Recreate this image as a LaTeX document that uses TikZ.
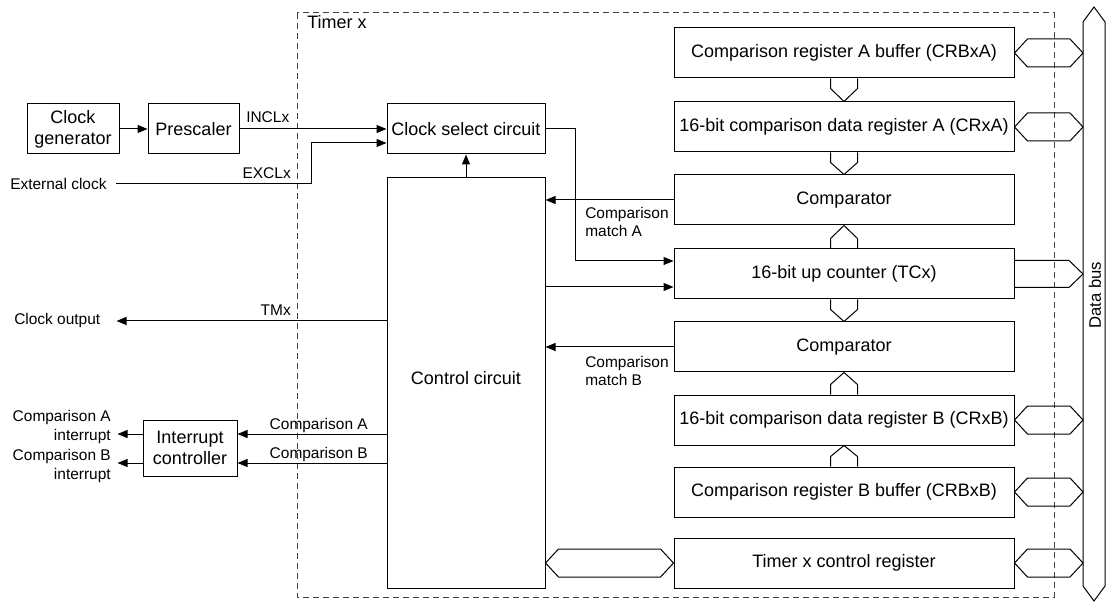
\documentclass[tikz,border=0pt]{standalone}
\usepackage{fontspec}
\setmainfont{Liberation Sans}
\usetikzlibrary{arrows.meta,calc}
\newcommand\hexbus[1]{\draw[bus] (#1.east) -- ++(13,-14) -- ($(#1.east -| busl)+(-13,-14)$) -- (#1.east -| busl) -- ++(-13,14) -- ($(#1.east)+(13,14)$) -- cycle;}
\newcommand\downbus[2]{\draw[bus] ($(#1.south)+(-13.5,0)$) -- ++(0,10) -- (#2.north) -- ($(#1.south)+(13.5,10)$) -- ++(0,-10);}
\newcommand\upbus[2]{\draw[bus] ($(#1.north)+(-13.5,0)$) -- ++(0,-10) -- (#2.south) -- ($(#1.north)+(13.5,-10)$) -- ++(0,10);}
\begin{document}
\begin{tikzpicture}[x=0.75pt,y=-0.75pt,
  box/.style={draw, line width=0.75pt, inner sep=0, font=\fontsize{13.5}{15.75}\selectfont, align=center},
  rbox/.style={box, minimum width=255pt, minimum height=37.5pt},
  lbl/.style={inner sep=0, font=\fontsize{11.6}{14}\selectfont},
  arr/.style={-{Triangle[length=7.5pt,width=6pt]}, line width=0.75pt},
  bus/.style={line width=0.75pt, line join=miter},
  frame/.style={dash pattern=on 4.5pt off 3pt, line width=0.75pt, black!75}
]
\useasboundingbox (0,0) rectangle (1112,605);
% timer frame
\draw[frame] (297,13) rectangle (1054,597);
\node[inner sep=0, anchor=west, font=\fontsize{13.5}{15.75}\selectfont] (tx) at (307,22) {Timer x};
% right column
\node[rbox] (crba) at (844,53) {Comparison register A buffer (CRBxA)};
\node[rbox] (crxa) at (844,127) {16-bit comparison data register A (CRxA)};
\node[rbox] (cmpa) at (844,200) {Comparator};
\node[rbox] (tcx) at (844,274) {16-bit up counter (TCx)};
\node[rbox] (cmpb) at (844,347) {Comparator};
\node[rbox] (crxb) at (844,420) {16-bit comparison data register B (CRxB)};
\node[rbox] (crbb) at (844,492) {Comparison register B buffer (CRBxB)};
\node[rbox] (tctl) at (844,563) {Timer x control register};
% left column
\node[box, minimum width=69pt, minimum height=37.5pt] (gen) at (73,129) {Clock\\generator};
\node[box, minimum width=68.25pt, minimum height=37.5pt] (pre) at (193.5,129) {Prescaler};
\node[box, minimum width=118.5pt, minimum height=37.5pt] (sel) at (466,129) {Clock select circuit};
\node[box, minimum width=118.5pt, minimum height=307.5pt] (ctl) at (466,383) {};
\node[inner sep=0, font=\fontsize{13.5}{15.75}\selectfont] (ctltxt) at (466,378) {Control circuit};
\node[box, minimum width=70.5pt, minimum height=42pt] (int) at (190,448) {Interrupt\\controller};
% data bus
\coordinate (busl) at (1083,0);
\draw[bus] (1083,586) -- (1083,22) -- (1094,7) -- (1105,22) -- (1105,586) -- (1094,601) -- cycle;
\node[inner sep=0, rotate=90, font=\fontsize{12.5}{15}\selectfont] (buslbl) at (1095,295) {Data bus};
% bus connectors
\hexbus{crba}
\hexbus{crxa}
\hexbus{crxb}
\hexbus{crbb}
\hexbus{tctl}
\coordinate (tcr) at (tcx.east -| busl);
\draw[bus] ($(tcx.east)+(0,-13.5)$) -- ($(tcr)+(-14,-13.5)$) -- (tcr) -- ($(tcr)+(-14,13.5)$) -- ($(tcx.east)+(0,13.5)$);
\coordinate (cl) at (ctl.east |- tctl);
\draw[bus] (cl) -- ++(13,-14) -- ($(tctl.west)+(-13,-14)$) -- (tctl.west) -- ++(-13,14) -- ($(cl)+(13,14)$) -- cycle;
\downbus{crba}{crxa}
\downbus{crxa}{cmpa}
\upbus{tcx}{cmpa}
\downbus{tcx}{cmpb}
\upbus{crxb}{cmpb}
\upbus{crbb}{crxb}
% clock path
\draw[arr] (gen.east) -- (pre.west);
\draw[arr] (pre.east) -- (pre.east -| sel.west);
\node[lbl, anchor=west] (incl) at (246,117) {INCLx};
\node[lbl, anchor=west] (ext) at (10,184) {External clock};
\coordinate (exin) at ($(sel.west)+(0,14)$);
\draw[arr] ($(ext.east)+(9,0)$) -| ($(exin)+(-75,0)$) -- (exin);
\node[lbl, anchor=east] (excl) at (291,173) {EXCLx};
\draw[arr] (ctl.north) -- (sel.south);
\coordinate (tca) at ($(tcx.west)+(0,-13)$);
\coordinate (tcb) at ($(tcx.west)+(0,13)$);
\draw[arr] (sel.east) -| ($(tca)+(-98,0)$) -- (tca);
\draw[arr] (ctl.east |- tcb) -- (tcb);
% comparator outputs
\draw[arr] (cmpa.west) -- (cmpa.west -| ctl.east);
\draw[arr] (cmpb.west) -- (cmpb.west -| ctl.east);
\node[lbl, anchor=west, align=left] (ma) at (585,222) {Comparison\\match A};
\node[lbl, anchor=west, align=left] (mb) at (585,371) {Comparison\\match B};
% clock output
\node[lbl, anchor=west] (cko) at (14,321) {Clock output};
\draw[arr] (ctl.west |- cko) -- ($(cko.east)+(16,0)$);
\node[lbl, anchor=east] (tmx) at (291,310) {TMx};
% interrupts
\coordinate (ia) at ($(int.east)+(0,-14)$);
\coordinate (ib) at ($(int.east)+(0,15)$);
\draw[arr] (ctl.west |- ia) -- (ia);
\draw[arr] (ctl.west |- ib) -- (ib);
\node[lbl, anchor=base east] (lca) at (368,429) {Comparison A};
\node[lbl, anchor=base east] (lcb) at (368,458) {Comparison B};
\draw[arr] (int.west |- ia) -- ++(-25,0);
\draw[arr] (int.west |- ib) -- ++(-25,0);
\node[lbl, anchor=east, align=right] (oa) at (111,427) {Comparison A\\interrupt};
\node[lbl, anchor=east, align=right] (ob) at (111,466) {Comparison B\\interrupt};
\end{tikzpicture}
\end{document}
